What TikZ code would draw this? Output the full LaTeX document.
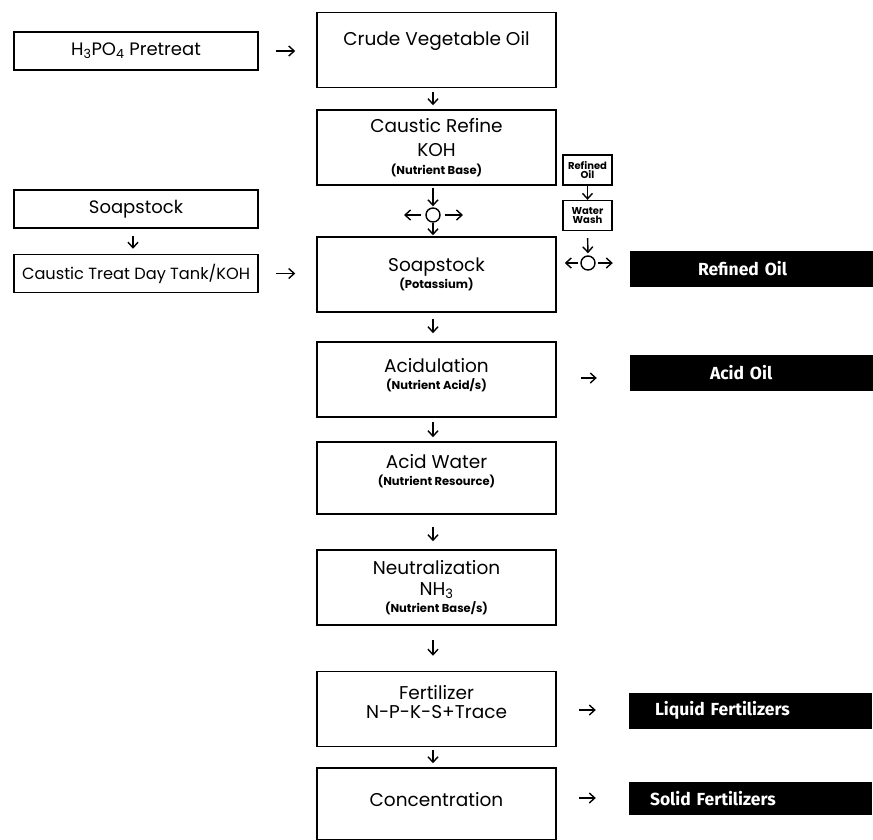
\documentclass[tikz,border=0pt]{standalone}
\usepackage{fontspec}
\setmainfont{Poppins}
\newfontfamily\blackfont{Fira Sans}
\usetikzlibrary{arrows.meta}
\newcommand{\subfnt}{\bfseries\fontsize{11.5}{13}\selectfont}
\begin{document}
\begin{tikzpicture}[x=1pt,y=-1pt,
  box/.style={draw, line width=1.5pt, inner sep=0pt, align=center},
  mainbox/.style={box, minimum width=239pt, minimum height=75pt, font=\fontsize{18.5}{21}\selectfont},
  sidebox/.style={box, minimum width=244pt, minimum height=38pt, font=\fontsize{18}{21}\selectfont},
  tinybox/.style={box, line width=1.3pt, minimum width=49pt, minimum height=30pt, font=\bfseries\fontsize{10}{10}\selectfont},
  blackbox/.style={fill=black, text=white, inner sep=0pt, minimum height=36pt, text width=243pt, align=left, font=\blackfont\bfseries\fontsize{17.5}{19}\selectfont},
  sep/.style={draw, circle, line width=1.4pt, minimum size=14pt, inner sep=0pt},
  arr/.style={-{Straight Barb[length=5.5pt,width=10pt]}, line width=1.4pt}
]
\useasboundingbox (0,0) rectangle (873,839);

% main column
\node[mainbox, text depth=24pt] (crude) at (436.5,50) {Crude Vegetable Oil};
\node[mainbox] (refine) at (436.5,147.5) {Caustic Refine\\[3pt]KOH\\[-3pt]{\subfnt (Nutrient Base)}};
\node[mainbox] (soap) at (436.5,274.5) {Soapstock\\[-4pt]{\subfnt (Potassium)}};
\node[mainbox, text depth=12pt] (acid) at (436.5,379.5) {Acidulation\\[-4pt]{\subfnt (Nutrient Acid/s)}};
\node[mainbox, minimum height=72pt, text depth=16pt] (water) at (436.5,478) {Acid Water\\[-4pt]{\subfnt (Nutrient Resource)}};
\node[mainbox] (neut) at (436.5,587.5) {Neutralization\\[0pt]NH\textsubscript{3}\\[-4pt]{\subfnt (Nutrient Base/s)}};
\node[mainbox, text depth=14pt] (fert) at (436.5,709) {Fertilizer\\[-2pt]N-P-K-S+Trace};
\node[mainbox, minimum height=72pt, text depth=10pt] (conc) at (436.5,804) {Concentration};

% left column
\node[sidebox] (pre) at (136,51) {H\textsubscript{3}PO\textsubscript{4} Pretreat};
\node[sidebox] (lsoap) at (136,209) {Soapstock};
\node[sidebox] (ctreat) at (136,273.5) {\fontsize{16.2}{18}\selectfont Caustic Treat Day Tank/KOH};

% right small boxes
\node[tinybox] (rsmall) at (587.5,170) {Refined\\[-1pt]Oil};
\node[tinybox] (wash) at (587.5,215.5) {Water\\[-1pt]Wash};

% separators
\node[sep] (sepa) at (433,215) {};
\node[sep] (sepb) at (588,263) {};
\coordinate (sepaL) at (404,215);
\coordinate (sepaR) at (463,215);

% black product boxes
\node[blackbox] (roil) at (751.5,269) {\hspace*{68pt}Refined Oil};
\node[blackbox] (aoil) at (751.5,372.5) {\hspace*{80pt}Acid Oil};
\node[blackbox] (liq) at (750.5,710.5) {\hspace*{26pt}Liquid Fertilizers};
\node[blackbox, minimum height=33pt] (sol) at (750.5,798.5) {\hspace*{21pt}Solid Fertilizers};

% vertical arrows, main column
\draw[arr, shorten <=4pt, shorten >=4pt] (crude.south -| 433,0) -- (refine.north -| 433,0);
\draw[arr, shorten <=2pt, shorten >=1pt] (refine.south -| sepa) -- (sepa.north);
\draw[arr, shorten >=1pt] (sepa.south) -- (soap.north -| sepa);
\draw[arr, shorten <=4pt] (sepa.west) -- (sepaL);
\draw[arr, shorten <=4pt] (sepa.east) -- (sepaR);
\draw[arr, shorten <=6pt, shorten >=8pt] (soap.south -| 433,0) -- (acid.north -| 433,0);
\draw[arr, shorten <=4pt, shorten >=4pt] (acid.south -| 433,0) -- (water.north -| 433,0);
\draw[arr, shorten <=12pt, shorten >=8pt] (water.south -| 433,0) -- (neut.north -| 433,0);
\draw[arr, shorten <=14pt, shorten >=15pt] (neut.south -| 433,0) -- (fert.north -| 433,0);
\draw[arr, shorten <=3pt, shorten >=4pt] (fert.south -| 433,0) -- (conc.north -| 433,0);

% left column arrows
\draw[arr, shorten <=7pt, shorten >=5pt] (lsoap.south -| 133,0) -- (ctreat.north -| 133,0);
\draw[arr, shorten <=17pt, shorten >=21pt] (pre.east) -- (pre.east -| crude.west);
\draw[arr, shorten <=17pt, shorten >=21pt] (ctreat.east) -- (ctreat.east -| soap.west);

% right side arrows
\draw[arr] (rsmall.south) -- (wash.north);
\draw[arr, shorten <=7pt, shorten >=2pt] (wash.south) -- (sepb.north);
\draw[arr, shorten <=2pt, shorten >=8pt] (sepb.west) -- (sepb.west -| soap.east);
\draw[arr, shorten <=2pt, shorten >=17pt] (sepb.east) -- (sepb.east -| roil.west);
\draw[arr, shorten <=24pt, shorten >=33pt] (acid.east |- 0,378) -- (aoil.west |- 0,378);
\draw[arr, shorten <=22pt, shorten >=33pt] (fert.east |- 0,710) -- (liq.west |- 0,710);
\draw[arr, shorten <=22pt, shorten >=33pt] (conc.east |- 0,798) -- (sol.west |- 0,798);
\end{tikzpicture}
\end{document}
